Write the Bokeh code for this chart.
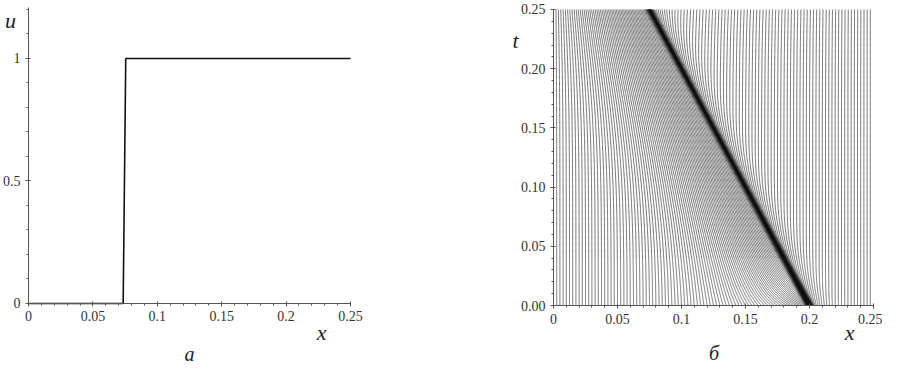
import numpy as np
from bokeh.plotting import figure
from bokeh.layouts import row
from bokeh.models import Range1d, FixedTicker, Label
from bokeh.embed import file_html
from bokeh.resources import INLINE

# ---------------- data ----------------
# panel a: solution u(x) at t = 0.25
step_x = [0.0, 0.0735, 0.0755, 0.25]
step_u = [0.0, 0.0, 1.0, 1.0]

# panel b: shock path in the (x, t) plane
shock_t = [0.0, 0.25]
shock_x = [0.2, 0.075]

# panel b: adaptive-mesh lines (equidistribution of a monitor attached to the shock)
line_spacing = 0.0025
core_mass, core_width = 0.045, 0.0025    # nodes packed into the shock
tail_mass, tail_width = 0.07, 0.06       # crowding ahead (left) of the shock
right_mass, right_width = 0.01, 0.012    # crowding behind (right) of the shock
ramp_time = 0.03
t_end = 0.25

x_ticks = [0, 0.05, 0.1, 0.15, 0.2, 0.25]
x_tick_labels = ["0", "0.05", "0.1", "0.15", "0.2", "0.25"]
u_ticks = [0, 0.5, 1]
u_tick_labels = ["0", "0.5", "1"]
t_ticks = [0, 0.05, 0.1, 0.15, 0.2, 0.25]
t_tick_labels = ["0.00", "0.05", "0.10", "0.15", "0.20", "0.25"]

# ---------------- mesh trajectories ----------------
def shock_pos(t):
    return np.interp(t, shock_t, shock_x)

xg = np.linspace(0.0, 0.25, 50001)
total = 0.25 + core_mass + tail_mass + right_mass
n_lines = int(round(total / line_spacing))
targets = np.arange(1, n_lines) / n_lines

times = np.concatenate([np.linspace(0, 0.04, 161)[:-1], np.linspace(0.04, t_end, 211)])
X = np.zeros((len(times), len(targets)))
for k, t in enumerate(times):
    s = shock_pos(t)
    m = tail_mass * (1 - np.exp(-t / ramp_time))
    d = xg - s
    M = 1.0 + (core_mass + tail_mass - m) / (core_width * np.sqrt(np.pi)) * np.exp(-(d / core_width) ** 2)
    M += np.where(d < 0, 2 * m / (tail_width * np.sqrt(np.pi)) * np.exp(-(d / tail_width) ** 2), 0.0)
    M += np.where(d > 0, 2 * right_mass / (right_width * np.sqrt(np.pi)) * np.exp(-(d / right_width) ** 2), 0.0)
    cum = np.concatenate([[0.0], np.cumsum(0.5 * (M[1:] + M[:-1]) * np.diff(xg))])
    cum /= cum[-1]
    X[k] = np.interp(targets, cum, xg)
mesh_xs = [X[:, j] for j in range(len(targets))]
mesh_ts = [times for j in range(len(targets))]

# ---------------- styling helpers ----------------
FONT = "Liberation Serif"
AX = "#555555"

def style(p, xb, yb):
    p.title.visible = False
    p.outline_line_color = None
    p.xgrid.visible = False
    p.ygrid.visible = False
    p.background_fill_color = "white"
    p.border_fill_color = "white"
    p.xaxis.fixed_location = 0
    p.yaxis.fixed_location = 0
    p.xaxis.bounds = xb
    p.yaxis.bounds = yb
    for ax in p.axis:
        ax.axis_line_color = AX
        ax.major_tick_line_color = AX
        ax.minor_tick_line_color = AX
        ax.major_tick_out = 3
        ax.major_tick_in = 2
        ax.minor_tick_out = 2
        ax.minor_tick_in = 0
        ax.major_label_text_font = FONT
        ax.major_label_text_font_size = "14px"
        ax.major_label_text_color = "#333333"
        ax.major_label_standoff = 5

def add_text(p, items):
    for txt, lx, ly, size in items:
        p.add_layout(Label(x=lx, y=ly, text=txt, text_font=FONT, text_font_style="italic",
                           text_font_size=size, text_align="center", text_baseline="middle",
                           text_color="#222222"))

minor_x = [i / 100 for i in range(26)]

# ---------------- panel a ----------------
p1 = figure(width=380, height=369, x_range=Range1d(-0.02174, 0.27329),
            y_range=Range1d(-0.26939, 1.23673),
            output_backend="svg", toolbar_location=None,
            min_border_left=0, min_border_right=0, min_border_top=0, min_border_bottom=0)
style(p1, (0, 0.25), (0, 1.21))
p1.xaxis.ticker = FixedTicker(ticks=x_ticks, minor_ticks=minor_x)
p1.xaxis.major_label_overrides = {t: l for t, l in zip(x_ticks, x_tick_labels)}
p1.yaxis.ticker = FixedTicker(ticks=u_ticks, minor_ticks=[i / 10 for i in range(13)])
p1.yaxis.major_label_overrides = {t: l for t, l in zip(u_ticks, u_tick_labels)}
p1.line(step_x, step_u, line_color="#111111", line_width=1.6)
add_text(p1, [("u", -0.014, 1.155, "22px"), ("x", 0.2275, -0.118, "22px"),
              ("а", 0.125, -0.205, "20px")])

# ---------------- panel b ----------------
p2 = figure(width=502, height=369, x_range=Range1d(-0.13516, 0.25703),
            y_range=Range1d(-0.05405, 0.25760),
            output_backend="svg", toolbar_location=None,
            min_border_left=0, min_border_right=0, min_border_top=0, min_border_bottom=0)
style(p2, (0, 0.25), (0, 0.25))
p2.xaxis.ticker = FixedTicker(ticks=x_ticks, minor_ticks=minor_x)
p2.xaxis.major_label_overrides = {t: l for t, l in zip(x_ticks, x_tick_labels)}
p2.yaxis.ticker = FixedTicker(ticks=t_ticks, minor_ticks=minor_x)
p2.yaxis.major_label_overrides = {t: l for t, l in zip(t_ticks, t_tick_labels)}

p2.multi_line(mesh_xs, mesh_ts, line_color="#151515", line_width=0.65, line_alpha=0.9)
p2.line(shock_x, shock_t, line_color="#0d0d0d", line_width=2.4)
add_text(p2, [("t", -0.0296, 0.2238, "22px"), ("x", 0.2313, -0.0228, "22px"),
              ("б", 0.1254, -0.0405, "20px")])

layout = row(p1, p2)
open("out.html", "w").write(file_html(layout, INLINE))
